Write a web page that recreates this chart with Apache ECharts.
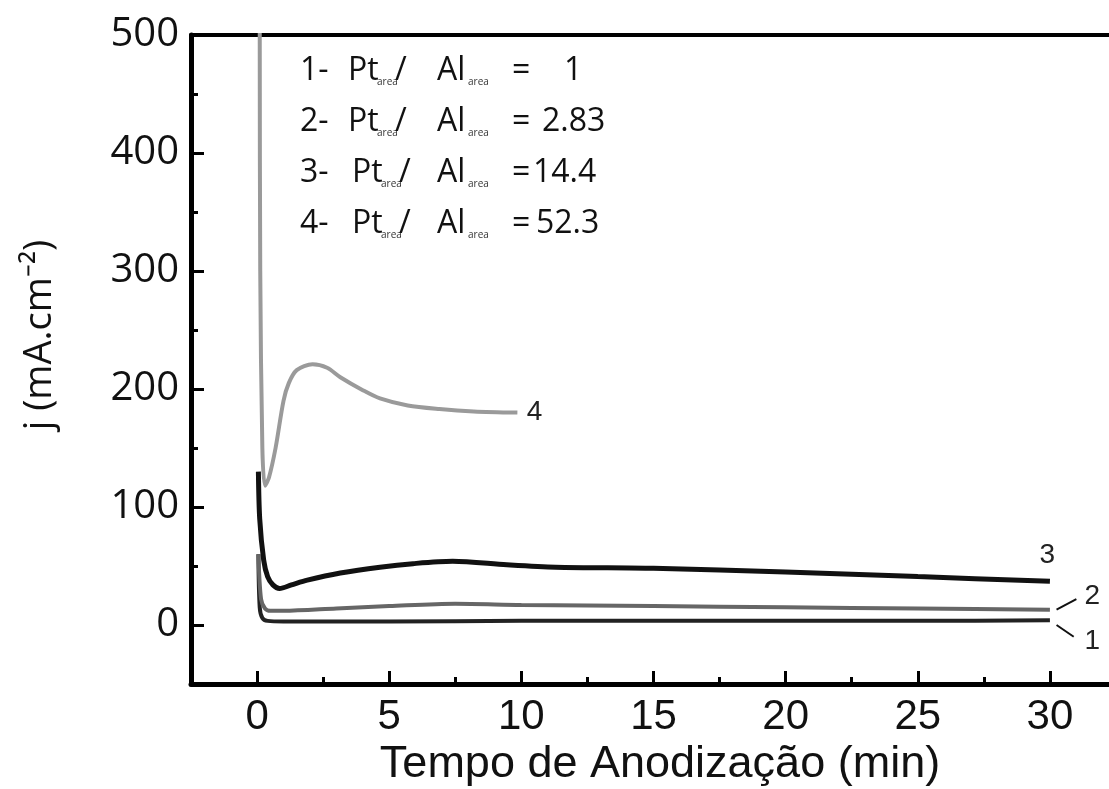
<!DOCTYPE html>
<html><head><meta charset="utf-8">
<script src="https://cdn.jsdelivr.net/npm/echarts@6/dist/echarts.min.js"></script>
<style>html,body{margin:0;padding:0;background:#fff}#c{width:1109px;height:789px}</style>
</head><body><div id="c"></div>
<script>
// ---- data ----
var t1 = [0.05, 0.1, 0.2, 0.4, 1, 5, 10, 15, 20, 25, 30];
var j1 = [60, 15, 6, 3.5, 3, 3, 3.5, 3.5, 3.5, 3.5, 4];
var t2 = [0.05, 0.15, 0.3, 0.5, 1, 3, 5, 7.5, 10, 15, 20, 25, 30];
var j2 = [60, 22, 14, 12, 12, 14, 16, 18, 17, 16, 15, 14, 13];
var t3 = [0.05, 0.1, 0.25, 0.4, 0.6, 0.85, 1.3, 1.9, 3.15, 4.65, 5.9, 7.4, 9.45, 11.3, 15, 20, 25, 30];
var j3 = [130, 90, 55, 41, 34, 31, 34, 38, 44, 49, 52, 54, 51, 49, 48, 45, 41, 37];
var t4 = [0.1, 0.12, 0.2, 0.3, 0.45, 0.7, 1.0, 1.2, 1.5, 2.1, 2.65, 3.15, 4.0, 4.65, 5.7, 6.9, 8.2, 9.85];
var j4 = [520, 300, 150, 118, 125, 150, 190, 205, 216, 221, 218, 210, 199, 192, 186, 183, 181, 180];
var legendIds = ['1-', '2-', '3-', '4-'];
var legendEq = ['=', '=', '=', '='];
var legendVals = ['1', '2.83', '14.4', '52.3'];
var curveLabels = [['1', 31.6, -14], ['2', 31.6, 24], ['3', 29.9, 59], ['4', 10.5, 180]];
var leaders = [[[30.25, 0], [30.9, -10]], [[30.25, 13], [31.0, 22]]];
var xTicks = {min: -2.5, max: 32.5, step: 2.5, labelStep: 5};
var yTicks = {min: -50, max: 500, step: 50, labelStep: 100};

function zip(a, b) { return a.map(function (v, i) { return [v, b[i]]; }); }

var chart = echarts.init(document.getElementById('c'));
var sansN = "'Liberation Sans Narrow', 'Liberation Sans', sans-serif";
var sans = "'Open Sans', 'Liberation Sans', sans-serif";

var graphics = [];
var eqW = [52, 30, 21, 24];
legendIds.forEach(function (id, i) {
  var base = {fontSize: 32, fontFamily: sans, fill: '#111', verticalAlign: 'bottom'};
  var sub = {fontSize: 10, fontFamily: sans, fill: '#333', verticalAlign: 'bottom'};
  graphics.push({
    type: 'text', left: 300, top: 55 + i * 51,
    style: {
      text: '{a|' + id + '}{p|Pt}{s|area}{sl|/}{al|Al}{s2|area}{eq|' + legendEq[i] + '}{v|' + legendVals[i] + '}',
      rich: {
        a: Object.assign({width: 48 + (i >= 2 ? 4 : 0)}, base),
        p: Object.assign({width: 29}, base),
        s: Object.assign({width: 18}, sub),
        sl: Object.assign({width: 42 - (i >= 2 ? 4 : 0)}, base),
        al: Object.assign({width: 31}, base),
        s2: Object.assign({width: 44}, sub),
        eq: Object.assign({width: eqW[i]}, base),
        v: base
      }
    }
  });
});
graphics.push({type: 'text', x: 660, y: 765, style: {text: 'Tempo de Anodização (min)', fontSize: 45, fontFamily: sansN, fill: '#111', align: 'center', verticalAlign: 'middle'}});
graphics.push({type: 'text', x: 40, y: 335, rotation: Math.PI / 2, style: {text: 'j (mA.cm⁻²)', fontSize: 38, fontFamily: sans, fill: '#111', align: 'center', verticalAlign: 'middle'}});

var annSeries = {
  type: 'line', data: [], silent: true,
  markLine: {
    silent: true, symbol: ['none', 'none'], label: {show: false},
    lineStyle: {color: '#111', width: 2, type: 'solid'},
    data: leaders.map(function (s) { return [{coord: s[0]}, {coord: s[1]}]; })
  },
  markPoint: {
    silent: true, symbol: 'rect', symbolSize: 1, itemStyle: {color: 'rgba(0,0,0,0)'},
    label: {show: true, position: 'inside', fontSize: 28, fontFamily: sansN, color: '#222', formatter: function (p) { return p.name; }},
    data: curveLabels.map(function (c) { return {name: c[0], coord: [c[1], c[2]]}; })
  }
};

chart.setOption({
  animation: false,
  backgroundColor: '#fff',
  grid: {left: 191, width: 925, top: 35, bottom: 105, outerBoundsMode: 'none', containLabel: false},
  xAxis: [{
    type: 'value', min: xTicks.min, max: xTicks.max, interval: xTicks.step,
    axisLine: {onZero: false, lineStyle: {color: '#000', width: 5}},
    axisTick: {inside: true, length: 7, lineStyle: {color: '#000', width: 3}},
    splitLine: {show: false},
    axisLabel: {fontSize: 42, fontFamily: sansN, color: '#111', margin: 12,
      formatter: function (v) { return (Math.abs(v % xTicks.labelStep) < 1e-6 && v >= 0 && v <= 30) ? String(v) : ''; }}
  }, {
    type: 'value', position: 'top', min: xTicks.min, max: xTicks.max,
    axisLine: {show: true, onZero: false, lineStyle: {color: '#000', width: 4}},
    axisTick: {show: false}, axisLabel: {show: false}, splitLine: {show: false}
  }, {
    // long ticks at multiples of 5: major ticks fall on -2.5, 2.5, ... so the minor ticks land on 0, 5, ...
    type: 'value', position: 'bottom', min: xTicks.min, max: xTicks.max, interval: xTicks.labelStep,
    axisLine: {show: false, onZero: false},
    axisTick: {show: false, inside: true},
    minorTick: {show: true, splitNumber: 2, length: 13, lineStyle: {color: '#000', width: 3}},
    axisLabel: {show: false}, splitLine: {show: false}, minorSplitLine: {show: false}
  }],
  yAxis: [{
    type: 'value', min: yTicks.min, max: yTicks.max, interval: yTicks.step,
    axisLine: {show: true, onZero: false, lineStyle: {color: '#000', width: 5}},
    axisTick: {show: true, inside: true, length: 7, lineStyle: {color: '#000', width: 3}},
    splitLine: {show: false},
    axisLabel: {fontSize: 40, fontFamily: sans, color: '#111', margin: 12,
      formatter: function (v) { return (Math.abs(v % yTicks.labelStep) < 1e-6 && v >= 0) ? String(v) : ''; }}
  }, {
    // inverse axis: value v here sits where -v sits on the main axis; ticks from -500 step 100
    type: 'value', position: 'left', inverse: true, min: -yTicks.max, max: -yTicks.min, interval: yTicks.labelStep,
    axisLine: {show: false, onZero: false},
    axisTick: {show: true, inside: true, length: 13, lineStyle: {color: '#000', width: 3}},
    axisLabel: {show: false}, splitLine: {show: false}
  }],
  graphic: graphics,
  series: [
    {type: 'line', data: zip(t1, j1), showSymbol: false, smooth: 0.3, lineStyle: {color: '#222', width: 4}},
    {type: 'line', data: zip(t2, j2), showSymbol: false, smooth: 0.3, lineStyle: {color: '#666', width: 4}},
    {type: 'line', data: zip(t3, j3), showSymbol: false, smooth: 0.3, lineStyle: {color: '#111', width: 5}},
    {type: 'line', data: zip(t4, j4), showSymbol: false, smooth: 0.3, lineStyle: {color: '#9a9a9a', width: 4}},
    annSeries
  ]
});
</script></body></html>
